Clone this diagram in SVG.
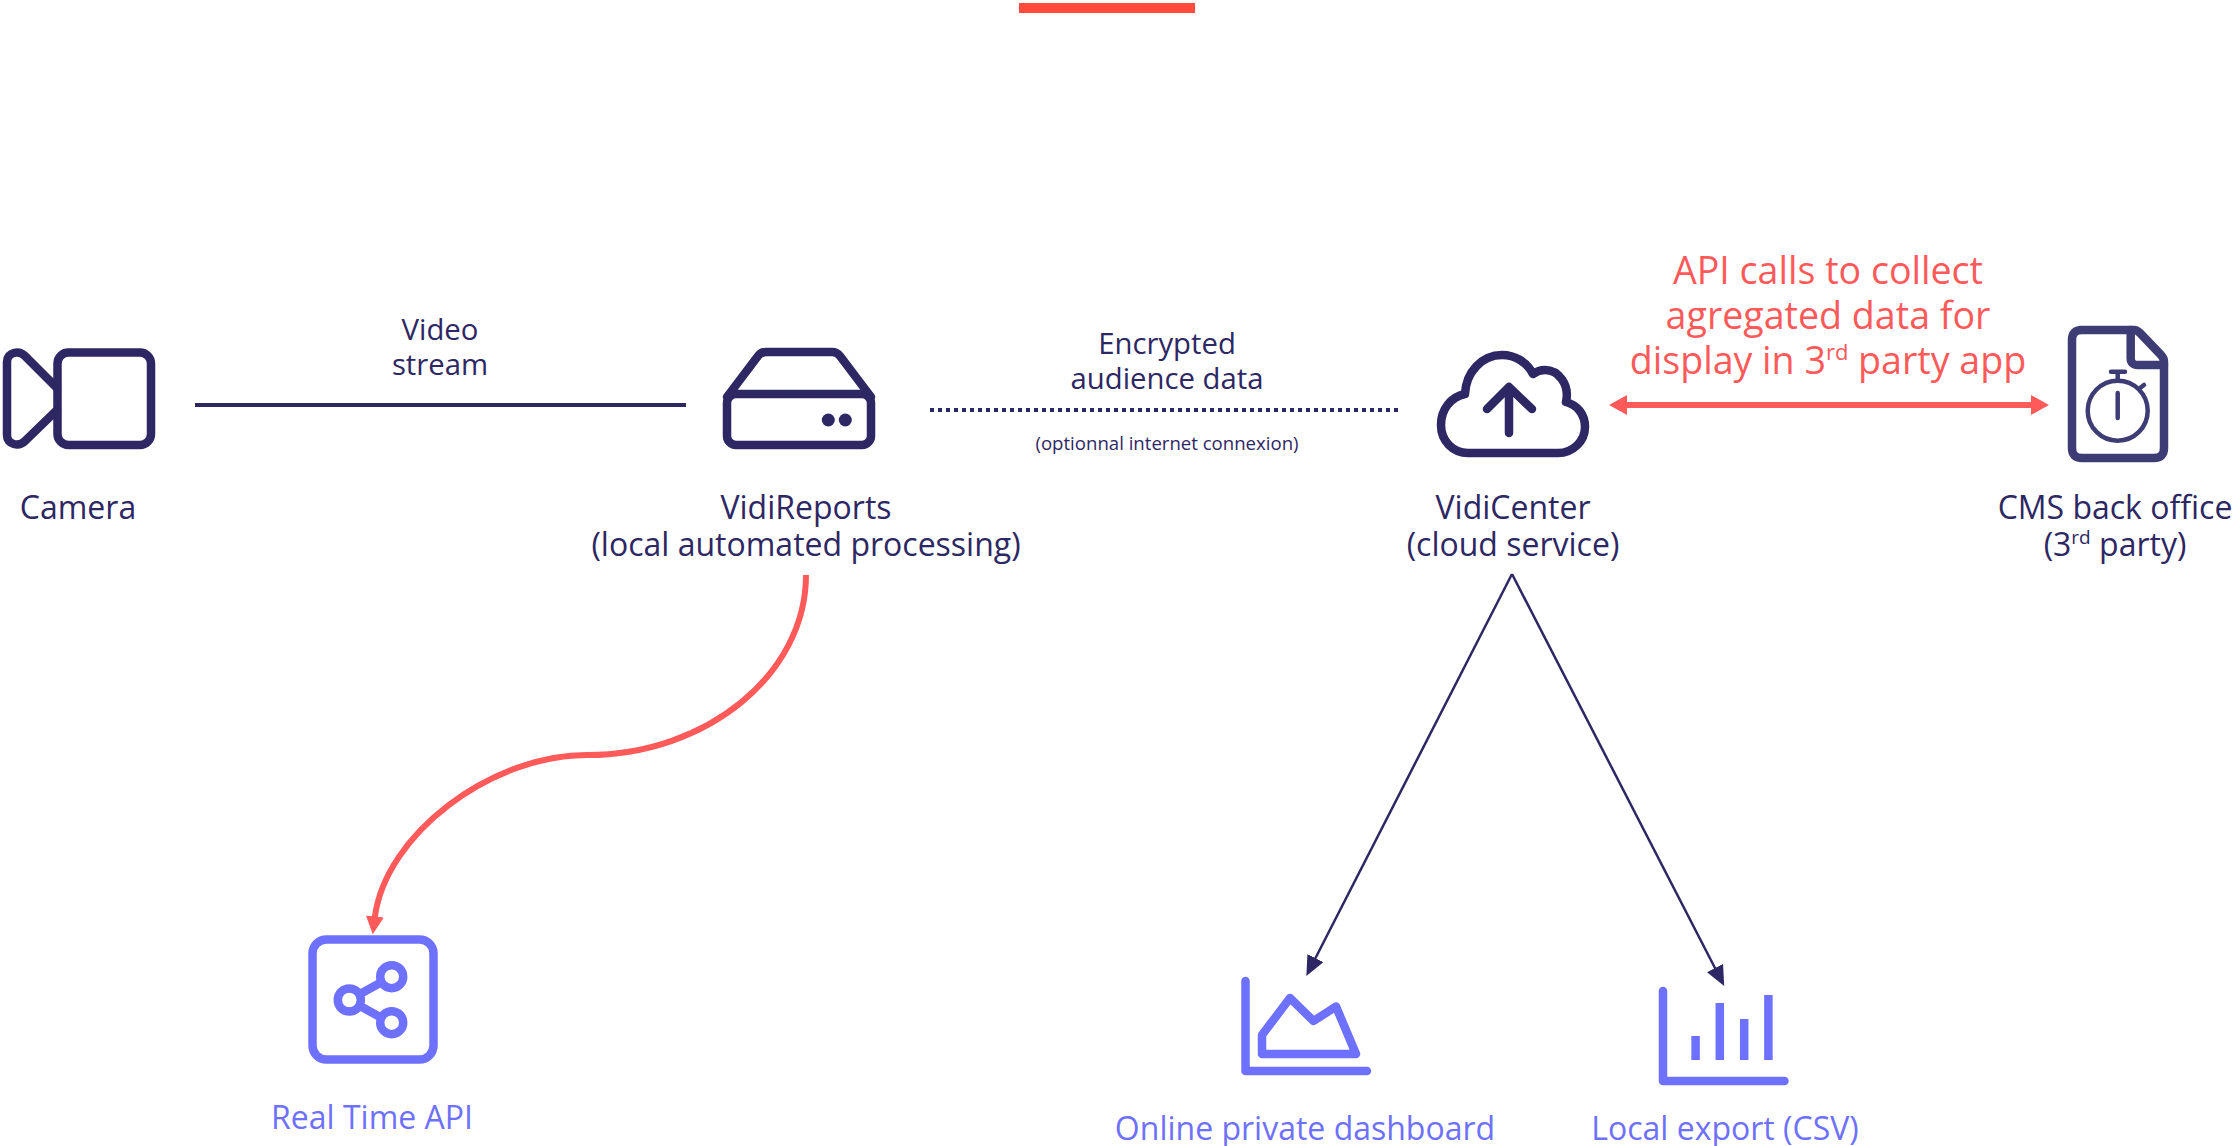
<svg xmlns="http://www.w3.org/2000/svg" width="2234" height="1146" viewBox="0 0 2234 1146">
<style>
text{font-family:"Open Sans","Noto Sans",sans-serif;text-anchor:middle}
.d{fill:#2d2763;font-size:32px}
.s{fill:#2d2763;font-size:29.3px}
.t{fill:#2d2763;font-size:18.6px}
.r{fill:#ff5a5a;font-size:37.6px}
.p{fill:#6e71ff;font-size:32px}
.i{fill:none;stroke:#2d2763;stroke-width:8.5;stroke-linecap:round;stroke-linejoin:round}
.v{fill:none;stroke:#6e71ff;stroke-width:8.5;stroke-linecap:round;stroke-linejoin:round}
.k{fill:none;stroke:#3e3c74;stroke-width:8.5;stroke-linecap:round;stroke-linejoin:round}
</style>
<defs>
<marker id="hr" markerUnits="userSpaceOnUse" markerWidth="20" markerHeight="22" refX="1" refY="10" orient="auto-start-reverse" viewBox="0 0 20 22"><path d="M0 0L18 10L0 20Z" fill="#ff5a5a"/></marker>
<marker id="hc" markerUnits="userSpaceOnUse" markerWidth="20" markerHeight="20" refX="1" refY="9" orient="auto" viewBox="0 0 20 20"><path d="M0 0L18 9L0 18Z" fill="#ff5a5a"/></marker>
<marker id="hd" markerUnits="userSpaceOnUse" markerWidth="22" markerHeight="20" refX="1" refY="9" orient="auto" viewBox="0 0 22 20"><path d="M0 0L20 9L0 18Z" fill="#2d2763"/></marker>
</defs>
<rect x="1019" y="3" width="176" height="10" fill="#ff4a3d"/>
<g id="connectors">
<path d="M195 405H686" fill="none" stroke="#2d2763" stroke-width="4"/>
<path d="M930 410H1399" fill="none" stroke="#2d2763" stroke-width="4" stroke-dasharray="4 4"/>
<path d="M1626 405H2032" fill="none" stroke="#ff5a5a" stroke-width="6" marker-start="url(#hr)" marker-end="url(#hr)"/>
<path d="M806 575C806 674 707 755 587 755C490 755 385 835 374.8 917.5" fill="none" stroke="#ff5a5a" stroke-width="6" marker-end="url(#hc)"/>
<path d="M1512 574L1315 959" fill="none" stroke="#2d2763" stroke-width="2.5" marker-end="url(#hd)"/>
<path d="M1512 574L1715.5 969" fill="none" stroke="#2d2763" stroke-width="2.5" marker-end="url(#hd)"/>
</g>
<g id="edge-labels">
<text class="s" x="440" y="339.5">Video</text>
<text class="s" x="440" y="374.5">stream</text>
<text class="s" x="1167" y="353.5">Encrypted</text>
<text class="s" x="1167" y="388.5">audience data</text>
<text class="t" x="1167" y="450">(optionnal internet connexion)</text>
<text class="r" x="1828" y="284">API calls to collect</text>
<text class="r" x="1828" y="329">agregated data for</text>
<text class="r" x="1828" y="374">display in 3<tspan font-size="22" dy="-14">rd</tspan><tspan dy="14"> party app</tspan></text>
</g>
<g id="camera">
<rect class="i" x="57.5" y="352.5" width="93.5" height="92.5" rx="11"/>
<path class="i" d="M57 388L25 356C19 350 7 352 7 362V435C7 445 19 447 25 441L57 410"/>
<text class="d" x="78" y="519">Camera</text>
</g>
<g id="vidireports">
<rect class="i" x="727" y="394" width="144" height="51" rx="9"/>
<path class="i" d="M727 397L758 356Q761 352 766 352H832Q837 352 840 356L871 397"/>
<circle cx="828.3" cy="420" r="6.5" fill="#2d2763"/>
<circle cx="845.3" cy="420" r="6.5" fill="#2d2763"/>
<text class="d" x="806" y="519">VidiReports</text>
<text class="d" x="806" y="556">(local automated processing)</text>
</g>
<g id="vidicenter">
<path class="i" d="M1468 453H1558C1573 453 1585 441 1585 427C1585 414 1577 405 1566 402C1570 384 1558 370 1545 370C1541 370 1537 371 1533 374C1527 362 1515 355 1502 355C1482 355 1466 372 1465 394C1451 397 1441 409 1441 425C1441 441 1453 453 1468 453Z"/>
<path class="i" d="M1509 433V387M1487 409L1509 387L1532 409"/>
<text class="d" x="1513" y="519">VidiCenter</text>
<text class="d" x="1513" y="556">(cloud service)</text>
</g>
<g id="cms">
<path class="k" d="M2080 330H2134Q2137 330 2140 333L2161 355Q2164 358 2164 362V448Q2164 458 2154 458H2082Q2072 458 2072 448V340Q2072 330 2082 330Z"/>
<path class="k" d="M2130.7 330V358Q2130.7 365 2138 365H2164"/>
<circle cx="2117.7" cy="410.7" r="30" fill="none" stroke="#3e3c74" stroke-width="4.5"/>
<path class="k" style="stroke-width:4.5" d="M2117.7 393V418M2111 371.7H2125M2117.7 372V380M2140 388L2144 385"/>
<text class="d" x="2115" y="519">CMS back office</text>
<text class="d" x="2115" y="556">(3<tspan font-size="19" dy="-12">rd</tspan><tspan dy="12"> party)</tspan></text>
</g>
<g id="realtime-api">
<rect class="v" x="312.5" y="939.5" width="121" height="120" rx="14"/>
<circle class="v" cx="349.3" cy="1000" r="11.5"/>
<circle class="v" cx="391.7" cy="976.7" r="11.5"/>
<circle class="v" cx="391.7" cy="1022.7" r="11.5"/>
<path class="v" d="M360 994L380 983M360 1006L380 1017"/>
<text class="p" x="372" y="1129">Real Time API</text>
</g>
<g id="dashboard">
<path class="v" d="M1245.5 981V1071H1367"/>
<path class="v" d="M1262 1054V1035L1290 998L1313.5 1021L1336 1006.5L1356 1054Z"/>
<text class="p" x="1305" y="1140">Online private dashboard</text>
</g>
<g id="export">
<path class="v" d="M1663 991V1081H1784.5"/>
<path class="v" d="M1695.6 1036V1060M1719.8 1003V1060M1744.2 1019V1060M1768.4 995V1060" style="stroke-linecap:butt"/>
<text class="p" x="1725" y="1140">Local export (CSV)</text>
</g>
</svg>
